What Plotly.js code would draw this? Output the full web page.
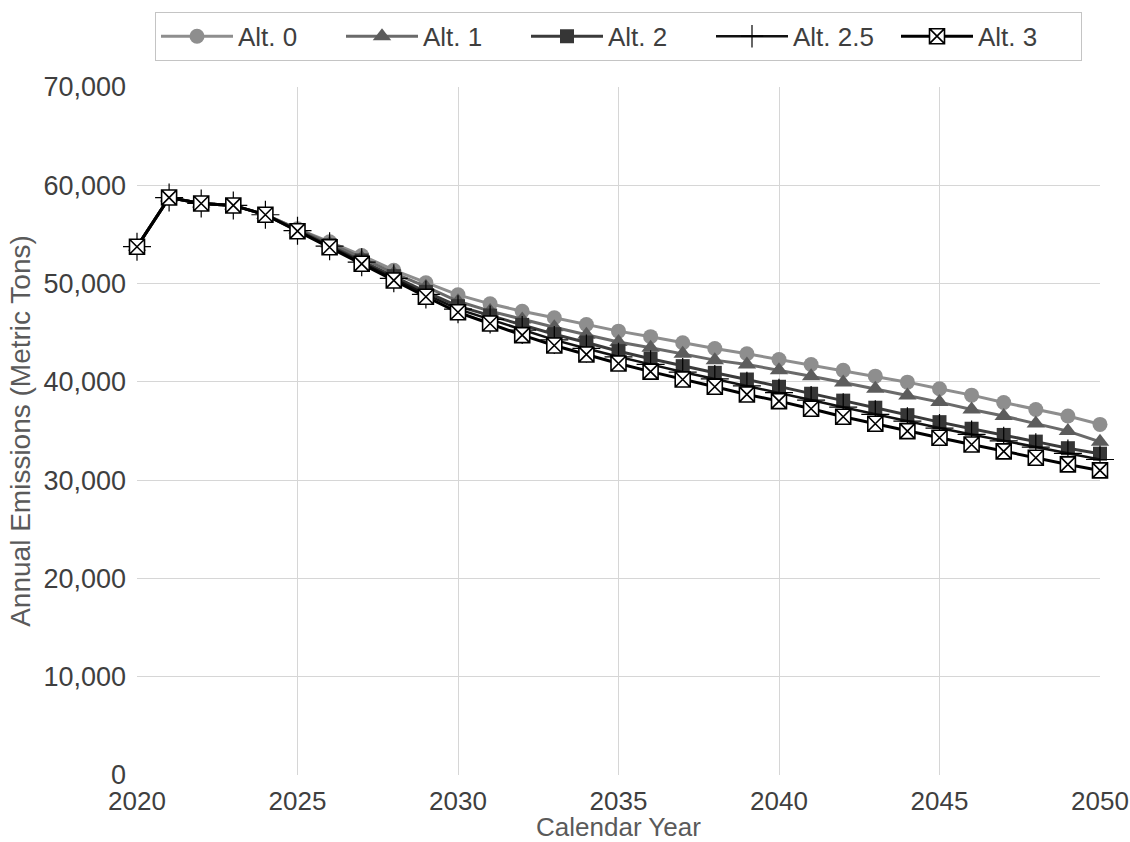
<!DOCTYPE html>
<html>
<head>
<meta charset="utf-8">
<script src="https://cdn.plot.ly/plotly-3.0.1.min.js"></script>
<style>html,body{margin:0;padding:0;background:#fff;}#chart{width:1130px;height:842px;}</style>
</head>
<body>
<div id="chart"></div>
<script>
var years = [2020,2021,2022,2023,2024,2025,2026,2027,2028,2029,2030,2031,2032,2033,2034,2035,2036,2037,2038,2039,2040,2041,2042,2043,2044,2045,2046,2047,2048,2049,2050];

var alt0 = [53750,58750,58150,57950,57000,55570,54250,52860,51360,50080,48850,47940,47190,46520,45840,45160,44600,43980,43400,42860,42280,41770,41170,40580,39970,39300,38650,37900,37190,36520,35670];
var alt1 = [53750,58750,58150,57950,57000,55500,54080,52620,51050,49680,48200,47200,46350,45550,44800,44050,43470,42860,42210,41770,41190,40580,39940,39300,38620,37940,37190,36520,35760,34990,33900];
var alt2 = [53750,58750,58150,57950,57000,55430,53900,52350,50750,49150,47700,46750,45800,44850,44000,43120,42350,41600,40920,40240,39500,38790,38090,37370,36610,35900,35230,34600,33920,33250,32690];
var alt25 = [53750,58750,58150,57950,57000,55380,53800,52180,50530,48900,47400,46350,45270,44270,43400,42550,41780,41000,40300,39600,38900,38150,37420,36700,36000,35300,34650,34000,33350,32720,32100];
var alt3 = [53750,58750,58150,57950,57000,55330,53700,52010,50320,48660,47080,45940,44750,43700,42790,41870,41040,40240,39500,38720,38040,37260,36450,35740,34990,34310,33630,32930,32280,31600,30990];

var seriesNames = ['Alt. 0','Alt. 1','Alt. 2','Alt. 2.5','Alt. 3'];
var xTicks = [2020,2025,2030,2035,2040,2045,2050];
var yTicks = [0,10000,20000,30000,40000,50000,60000,70000];

var FONT = 'Liberation Sans, Arial, Helvetica, sans-serif';
var TICK = '#3f3f3f';

var traces = [
  {x: years, y: alt0, name: seriesNames[0], mode: 'lines+markers', cliponaxis: false,
   line: {color: '#8e8e8e', width: 3},
   marker: {symbol: 'circle', size: 15, color: '#8e8e8e'}},
  {x: years, y: alt1, name: seriesNames[1], mode: 'lines+markers', cliponaxis: false,
   line: {color: '#6a6a6a', width: 3},
   marker: {symbol: 'triangle-up', size: 16, color: '#5c5c5c'}},
  {x: years, y: alt2, name: seriesNames[2], mode: 'lines+markers', cliponaxis: false,
   line: {color: '#3a3a3a', width: 3},
   marker: {symbol: 'square', size: 14, color: '#363636'}},
  {x: years, y: alt25, name: seriesNames[3], mode: 'lines+markers', cliponaxis: false,
   line: {color: '#111111', width: 2.5},
   marker: {symbol: 'cross-thin-open', size: 20, color: '#000000', line: {color: '#000000', width: 1.2}}},
  {x: years, y: alt3, name: seriesNames[4], mode: 'lines+markers', cliponaxis: false,
   line: {color: '#000000', width: 3},
   marker: {symbol: 'square-x', size: 15, color: '#ffffff', line: {color: '#000000', width: 1.6}}}
];

var layout = {
  width: 1130, height: 842,
  paper_bgcolor: '#ffffff', plot_bgcolor: '#ffffff',
  margin: {l: 137, r: 30, t: 87, b: 67, pad: 0},
  font: {family: FONT, size: 27, color: TICK},
  showlegend: true,
  legend: {
    orientation: 'h', xref: 'paper', yref: 'container',
    x: 0.5, xanchor: 'center', y: 0.986, yanchor: 'top',
    bordercolor: '#c4c4c4', borderwidth: 1, bgcolor: '#ffffff',
    font: {family: FONT, size: 26, color: TICK},
    itemwidth: 72, entrywidth: 98, traceorder: 'normal'
  },
  xaxis: {
    range: [2020, 2050], tickvals: xTicks, ticktext: xTicks.map(String),
    showgrid: true, gridcolor: '#d6d6d6', gridwidth: 1,
    zeroline: false, showline: false, ticks: '', ticklabelstandoff: 8,
    ticklabeloverflow: 'allow',
    tickfont: {family: FONT, size: 26, color: TICK},
    title: {text: 'Calendar Year', font: {family: FONT, size: 26, color: '#5a5a5a'}, standoff: 9}
  },
  yaxis: {
    range: [0, 70000], tickvals: yTicks, tickformat: ',d',
    showgrid: true, gridcolor: '#d6d6d6', gridwidth: 1,
    zeroline: false, showline: false, ticks: '', ticklabelstandoff: 10,
    tickfont: {family: FONT, size: 27, color: TICK},
    title: {text: 'Annual Emissions (Metric Tons)', font: {family: FONT, size: 28, color: '#5a5a5a'}, standoff: 4}
  }
};

Plotly.newPlot('chart', traces, layout, {displayModeBar: false, staticPlot: true});
</script>
</body>
</html>
